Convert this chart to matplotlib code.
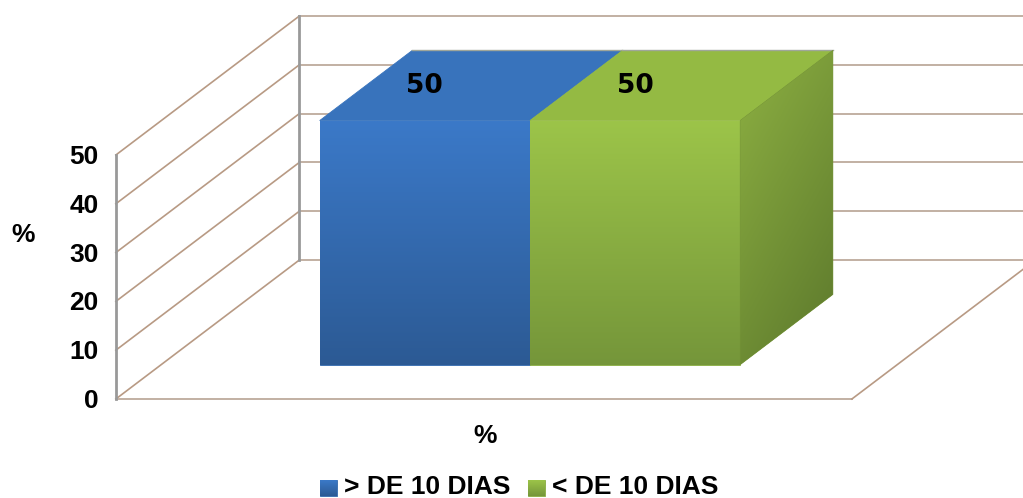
#!/usr/bin/env python3
# -*- coding: utf-8 -*-
import numpy as np
import matplotlib
matplotlib.use("Agg")
import matplotlib.pyplot as plt
from matplotlib.colors import to_rgb
from matplotlib.patches import Polygon

categories = ["> DE 10 DIAS", "< DE 10 DIAS"]
values = [50, 50]
y_ticks = [0, 10, 20, 30, 40, 50]
x_title = "%"
y_title = "%"

# colours: front top/bottom, top face, side start/end
blue = {"front": ("#3B79C8", "#2C5A94"), "top": "#3873BC"}
green = {"front": ("#9CC449", "#75963A"), "top": "#94BA43",
         "side": ("#8DB042", "#5C782C")}
colors = [blue, green]

GRID = "#B89A84"
GRID_BACK = "#C2B0A3"
WALL = "#999999"
FONT = ["Liberation Sans", "DejaVu Sans"]

# fake 3D projection, category unit / value / depth to pixels
X0, Y0 = 484.5, 399
PX_CAT, PX_VAL = 210.3, 4.88
DX, DY = 183.5, 139
FLOOR = (-1.753, 1.747)
BAR_Z = (0.248, 0.752)


def proj(x, v, z):
    return X0 + PX_CAT * x + DX * z, Y0 - PX_VAL * v - DY * z


def grad_poly(ax, pts, c0, c1, angle="v", z=3):
    """polygon filled with a linear gradient (imshow clipped to the polygon)"""
    pts = np.array(pts)
    x0, x1 = pts[:, 0].min(), pts[:, 0].max()
    y0, y1 = pts[:, 1].min(), pts[:, 1].max()
    yy, xx = np.mgrid[0:1:120j, 0:1:120j]
    t = yy if angle == "v" else 0.35 * xx + 0.65 * yy
    t = t[..., None]
    c0, c1 = np.array(to_rgb(c0)), np.array(to_rgb(c1))
    img = c0 * (1 - t) + c1 * t
    # solid underlay so the clip edge does not let white through
    ax.add_patch(Polygon(pts, closed=True, fc=(c0 + c1) / 2, ec=(c0 + c1) / 2,
                         lw=0.6, zorder=z))
    im = ax.imshow(img, extent=(x0, x1, y1, y0), aspect="auto", zorder=z,
                   interpolation="bilinear")
    poly = Polygon(pts, closed=True, transform=ax.transData)
    im.set_clip_path(poly)


fig = plt.figure(figsize=(10.23, 4.98), dpi=100)
ax = fig.add_axes([0, 0, 1, 1])

# walls and gridlines
for v in y_ticks:
    xa, ya = proj(FLOOR[0], v, 0)
    xb, yb = proj(FLOOR[0], v, 1)
    xc, yc = proj(FLOOR[1], v, 1)
    ax.plot([xa, xb], [ya, yb], color=GRID, lw=1.2, zorder=1)
    ax.plot([xb, xc], [yb, yc], color=GRID_BACK, lw=1.4, zorder=1)

xa, ya = proj(FLOOR[0], 0, 0)
xb, yb = proj(FLOOR[1], 0, 0)
xc, yc = proj(FLOOR[1], 0, 1)
ax.plot([xa, xb], [ya, yb], color=GRID_BACK, lw=1.4, zorder=1)
ax.plot([xb, xc], [yb, yc], color=GRID, lw=1.2, zorder=1)

for z in (0, 1):
    xa, ya = proj(FLOOR[0], 0, z)
    xb, yb = proj(FLOOR[0], max(y_ticks), z)
    ax.plot([xa, xb], [ya, yb], color=WALL, lw=2, zorder=2)

# bars, painted left to right
positions = [-0.5, 0.5]
for i, (pos, val) in enumerate(zip(positions, values)):
    l, r = pos - 0.5, pos + 0.5
    zf, zb = BAR_Z
    c = colors[i]
    top = [proj(l, val, zf), proj(r, val, zf), proj(r, val, zb), proj(l, val, zb)]
    ax.add_patch(Polygon(top, closed=True, fc=c["top"], ec=c["top"], lw=0.6,
                         zorder=3 + i))
    # thin grey rim on the back edge of the top face
    ax.plot([top[3][0], top[2][0]], [top[3][1], top[2][1]],
            color="#9FA69A", lw=1, zorder=3 + i)
    front = [proj(l, 0, zf), proj(r, 0, zf), proj(r, val, zf), proj(l, val, zf)]
    grad_poly(ax, front, c["front"][0], c["front"][1], z=4 + i)
    if "side" in c:
        side = [proj(r, 0, zf), proj(r, 0, zb), proj(r, val, zb), proj(r, val, zf)]
        grad_poly(ax, side, c["side"][0], c["side"][1], angle="d", z=4 + i)

# value labels
for pos, val in zip(positions, values):
    px, py = proj(pos, val, BAR_Z[0])
    ax.text(px, py - 35, str(val), ha="center", va="center", fontsize=19,
            fontweight="bold", family="DejaVu Sans", color="black", zorder=8)

# tick labels and titles
for v in y_ticks:
    px, py = proj(FLOOR[0], v, 0)
    ax.text(px - 17, py + 2, str(v), ha="right", va="center", fontsize=19,
            fontweight="bold", family=FONT, color="black")
ax.text(23, 235, y_title, ha="center", va="center", fontsize=19,
        fontweight="bold", family=FONT, color="black")
ax.text(485, 436, x_title, ha="center", va="center", fontsize=19,
        fontweight="bold", family=FONT, color="black")

# legend
legend_x = [320, 528]
for lx, cat, c in zip(legend_x, categories, colors):
    sq = [(lx, 480), (lx + 17, 480), (lx + 17, 496), (lx, 496)]
    grad_poly(ax, sq, c["front"][0], c["front"][1])
    ax.text(lx + 24, 487, cat, ha="left", va="center", fontsize=19,
            fontweight="bold", family=FONT, color="black")

ax.set_xlim(0, 1023)
ax.set_ylim(498, 0)
ax.axis("off")
fig.savefig("out.png", dpi=100)
plt.close(fig)
